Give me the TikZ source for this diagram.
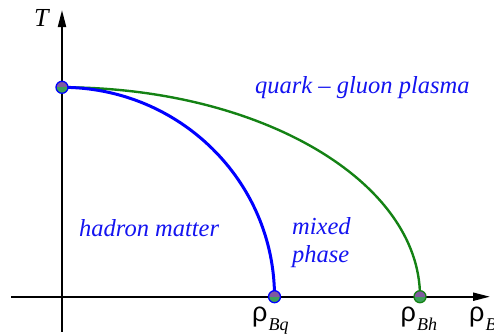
\documentclass[tikz,border=0pt]{standalone}
\usepackage{fontspec}
\setmainfont{Liberation Serif}
\newfontfamily\rhofont{Liberation Sans}
\newcommand\subfnt{\rmfamily\itshape\fontsize{18}{18}\selectfont}
\usetikzlibrary{arrows.meta}
\definecolor{txtblue}{RGB}{20,20,240}
\definecolor{curveblue}{RGB}{0,0,255}
\definecolor{curvegreen}{RGB}{20,130,20}
\definecolor{dotpurple}{RGB}{128,90,160}
\definecolor{dotgreen}{RGB}{60,160,90}
\begin{document}
\begin{tikzpicture}[x=1pt,y=1pt,
 axis/.style={line width=2pt, -{Triangle[length=17pt,width=8pt]}},
 lbl/.style={text=txtblue, font=\fontsize{24.5}{28}\selectfont\itshape, inner sep=0pt, anchor=base west},
 dot/.style={circle, minimum size=12pt, inner sep=0pt, line width=1.3pt,
   path picture={\fill[dotgreen] (path picture bounding box.south west) rectangle (path picture bounding box.east);
                 \fill[dotpurple] (path picture bounding box.west) rectangle (path picture bounding box.north east);}},
 rholbl/.style={inner sep=0pt, anchor=base west, font=\rhofont\fontsize{27}{27}\selectfont}
]
\useasboundingbox (0,0) rectangle (494,333);
\coordinate (xs) at (11,36.3);
\coordinate (xe) at (490,36.3);
\coordinate (ys) at (62,1.3);
\coordinate (ye) at (62,323);
\draw[axis] (xs) -- (xe);
\draw[axis] (ys) -- (ye);
\coordinate (top) at (62,245.7);
\coordinate (bq) at (274.5,36.3);
\coordinate (bh) at (420,36.3);
\draw[curvegreen, line width=2.4pt] (top) arc[start angle=90,end angle=0,x radius=358pt,y radius=209.4pt];
\draw[curveblue, line width=3pt] (top) arc[start angle=90,end angle=0,x radius=212.5pt,y radius=209.4pt];
\node[dot, draw=curveblue] (ptop) at (top) {};
\node[dot, draw=curveblue] (pbq) at (bq) {};
\node[dot, draw=curvegreen] (pbh) at (bh) {};
\node[font=\fontsize{26}{26}\selectfont\itshape, inner sep=0pt, anchor=base west] (T) at (34,307) {T};
\node[lbl] (qgp) at (255,240) {quark – gluon plasma};
\node[lbl] (hm) at (79,97) {hadron matter};
\node[lbl] (mx) at (292,99) {mixed};
\node[lbl] (ph) at (292,71) {phase};
\node[rholbl] (rbq) at (252,11.5) {ρ\kern1pt\raisebox{-9pt}{\subfnt Bq}};
\node[rholbl] (rbh) at (400.5,12) {ρ\kern1pt\raisebox{-9pt}{\subfnt Bh}};
\node[rholbl] (rb) at (469,12) {ρ\kern1pt\raisebox{-9pt}{\subfnt B}};
\end{tikzpicture}
\end{document}
